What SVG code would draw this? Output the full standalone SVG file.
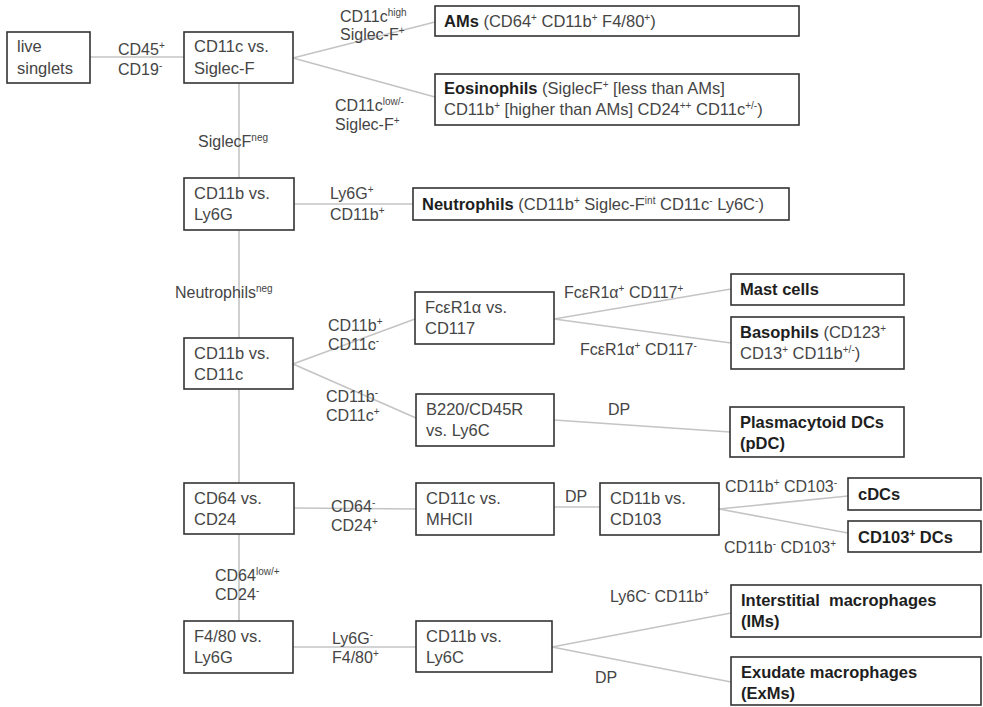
<svg xmlns="http://www.w3.org/2000/svg" width="983" height="707" viewBox="0 0 983 707">
<style>
.box{fill:#fff;stroke:#333;stroke-width:1.6}
.c{stroke:#c4c4c4;stroke-width:1.6;fill:none}
text{font-family:"Liberation Sans",Arial,sans-serif;font-size:16.5px;fill:#454545}
.b{font-weight:bold;fill:#1e1e1e}
.lbl{font-size:16px}
.s{font-size:10px}
</style>
<rect width="983" height="707" fill="#fff"/>
<g id="connectors">
<line class="c" x1="90" y1="57" x2="184" y2="57"/>
<line class="c" x1="293" y1="58" x2="435" y2="22"/>
<line class="c" x1="293" y1="58" x2="435" y2="97"/>
<line class="c" x1="239" y1="83" x2="239" y2="178"/>
<line class="c" x1="294" y1="204" x2="413" y2="204"/>
<line class="c" x1="239" y1="230" x2="239" y2="338"/>
<line class="c" x1="293" y1="364" x2="415" y2="319"/>
<line class="c" x1="293" y1="364" x2="416" y2="418"/>
<line class="c" x1="554" y1="319" x2="731" y2="289"/>
<line class="c" x1="554" y1="319" x2="731" y2="343"/>
<line class="c" x1="554" y1="420" x2="730" y2="432"/>
<line class="c" x1="239" y1="389" x2="239" y2="483"/>
<line class="c" x1="294" y1="508" x2="416" y2="509"/>
<line class="c" x1="554" y1="507" x2="600" y2="507"/>
<line class="c" x1="719" y1="509" x2="848" y2="496"/>
<line class="c" x1="719" y1="509" x2="848" y2="533"/>
<line class="c" x1="239" y1="534" x2="239" y2="621"/>
<line class="c" x1="293" y1="647" x2="416" y2="647"/>
<line class="c" x1="552" y1="647" x2="731" y2="613"/>
<line class="c" x1="552" y1="647" x2="731" y2="682"/>
<g id="edge-labels" class="lbl">
<text class="lbl" x="118" y="55">CD45<tspan class="s" dy="-6">+</tspan></text>
<text class="lbl" x="118" y="75">CD19<tspan class="s" dy="-6">-</tspan></text>
<text class="lbl" x="340" y="22">CD11c<tspan class="s" dy="-6">high</tspan></text>
<text class="lbl" x="340" y="40">Siglec-F<tspan class="s" dy="-6">+</tspan></text>
<text class="lbl" x="335" y="111">CD11c<tspan class="s" dy="-6">low/-</tspan></text>
<text class="lbl" x="335" y="130">Siglec-F<tspan class="s" dy="-6">+</tspan></text>
<text class="lbl" x="198" y="147">SiglecF<tspan class="s" dy="-6">neg</tspan></text>
<text class="lbl" x="330" y="199">Ly6G<tspan class="s" dy="-6">+</tspan></text>
<text class="lbl" x="330" y="220">CD11b<tspan class="s" dy="-6">+</tspan></text>
<text class="lbl" x="175" y="298">Neutrophils<tspan class="s" dy="-6">neg</tspan></text>
<text class="lbl" x="328" y="331">CD11b<tspan class="s" dy="-6">+</tspan></text>
<text class="lbl" x="328" y="350">CD11c<tspan class="s" dy="-6">-</tspan></text>
<text class="lbl" x="326" y="402">CD11b<tspan class="s" dy="-6">-</tspan></text>
<text class="lbl" x="326" y="421">CD11c<tspan class="s" dy="-6">+</tspan></text>
<text class="lbl" x="564" y="298">FcεR1α<tspan class="s" dy="-6">+</tspan><tspan dy="6"> CD117</tspan><tspan class="s" dy="-6">+</tspan></text>
<text class="lbl" x="580" y="355">FcεR1α<tspan class="s" dy="-6">+</tspan><tspan dy="6"> CD117</tspan><tspan class="s" dy="-6">-</tspan></text>
<text class="lbl" x="608" y="415">DP</text>
<text class="lbl" x="331" y="512">CD64<tspan class="s" dy="-6">-</tspan></text>
<text class="lbl" x="331" y="531">CD24<tspan class="s" dy="-6">+</tspan></text>
<text class="lbl" x="565" y="502">DP</text>
<text class="lbl" x="725" y="492">CD11b<tspan class="s" dy="-6">+</tspan><tspan dy="6"> CD103</tspan><tspan class="s" dy="-6">-</tspan></text>
<text class="lbl" x="724" y="553">CD11b<tspan class="s" dy="-6">-</tspan><tspan dy="6"> CD103</tspan><tspan class="s" dy="-6">+</tspan></text>
<text class="lbl" x="215" y="581">CD64<tspan class="s" dy="-6">low/+</tspan></text>
<text class="lbl" x="215" y="600">CD24<tspan class="s" dy="-6">-</tspan></text>
<text class="lbl" x="332" y="644">Ly6G<tspan class="s" dy="-6">-</tspan></text>
<text class="lbl" x="332" y="663">F4/80<tspan class="s" dy="-6">+</tspan></text>
<text class="lbl" x="610" y="602">Ly6C<tspan class="s" dy="-6">-</tspan><tspan dy="6"> CD11b</tspan><tspan class="s" dy="-6">+</tspan></text>
<text class="lbl" x="595" y="683">DP</text>
</g>
</g>
<g id="live-singlets"><rect class="box" x="7" y="32" width="83" height="51"/><text x="17" y="52">live</text><text x="17" y="74">singlets</text></g>
<g id="cd11c-siglecf"><rect class="box" x="184" y="32" width="109" height="51"/><text x="194" y="52">CD11c vs.</text><text x="194" y="74">Siglec-F</text></g>
<g id="ams"><rect class="box" x="435" y="6" width="364" height="30"/><text x="444" y="27"><tspan class="b">AMs</tspan> (CD64<tspan class="s" dy="-6">+</tspan><tspan dy="6"> CD11b</tspan><tspan class="s" dy="-6">+</tspan><tspan dy="6"> F4/80</tspan><tspan class="s" dy="-6">+</tspan><tspan dy="6">)</tspan></text></g>
<g id="eosinophils"><rect class="box" x="435" y="74" width="364" height="51"/><text x="444" y="94"><tspan class="b">Eosinophils</tspan> (SiglecF<tspan class="s" dy="-6">+</tspan><tspan dy="6"> [less than AMs]</tspan></text><text x="444" y="115">CD11b<tspan class="s" dy="-6">+</tspan><tspan dy="6"> [higher than AMs] CD24</tspan><tspan class="s" dy="-6">++</tspan><tspan dy="6"> CD11c</tspan><tspan class="s" dy="-6">+/-</tspan><tspan dy="6">)</tspan></text></g>
<g id="cd11b-ly6g"><rect class="box" x="184" y="178" width="110" height="52"/><text x="194" y="199">CD11b vs.</text><text x="194" y="220">Ly6G</text></g>
<g id="neutrophils"><rect class="box" x="413" y="188" width="376" height="32"/><text x="422" y="210"><tspan class="b">Neutrophils</tspan> (CD11b<tspan class="s" dy="-6">+</tspan><tspan dy="6"> Siglec-F</tspan><tspan class="s" dy="-6">int</tspan><tspan dy="6"> CD11c</tspan><tspan class="s" dy="-6">-</tspan><tspan dy="6"> Ly6C</tspan><tspan class="s" dy="-6">-</tspan><tspan dy="6">)</tspan></text></g>
<g id="cd11b-cd11c"><rect class="box" x="184" y="338" width="109" height="51"/><text x="194" y="359">CD11b vs.</text><text x="194" y="380">CD11c</text></g>
<g id="fcer1a-cd117"><rect class="box" x="415" y="292" width="139" height="52"/><text x="425" y="313">FcεR1α vs.</text><text x="425" y="334">CD117</text></g>
<g id="b220-ly6c"><rect class="box" x="416" y="394" width="138" height="52"/><text x="426" y="415">B220/CD45R</text><text x="426" y="436">vs. Ly6C</text></g>
<g id="mast-cells"><rect class="box" x="731" y="274" width="173" height="31"/><text class="b" x="740" y="295">Mast cells</text></g>
<g id="basophils"><rect class="box" x="731" y="317" width="173" height="52"/><text x="740" y="338"><tspan class="b">Basophils</tspan> (CD123<tspan class="s" dy="-6">+</tspan></text><text x="740" y="359">CD13<tspan class="s" dy="-6">+</tspan><tspan dy="6"> CD11b</tspan><tspan class="s" dy="-6">+/-</tspan><tspan dy="6">)</tspan></text></g>
<g id="pdc"><rect class="box" x="730" y="407" width="174" height="50"/><text class="b" x="740" y="428">Plasmacytoid DCs</text><text class="b" x="740" y="449">(pDC)</text></g>
<g id="cd64-cd24"><rect class="box" x="184" y="483" width="110" height="51"/><text x="194" y="504">CD64 vs.</text><text x="194" y="525">CD24</text></g>
<g id="cd11c-mhcii"><rect class="box" x="416" y="483" width="138" height="52"/><text x="426" y="504">CD11c vs.</text><text x="426" y="525">MHCII</text></g>
<g id="cd11b-cd103"><rect class="box" x="600" y="483" width="119" height="52"/><text x="610" y="504">CD11b vs.</text><text x="610" y="525">CD103</text></g>
<g id="cdcs"><rect class="box" x="848" y="478" width="133" height="32"/><text class="b" x="858" y="500">cDCs</text></g>
<g id="cd103-dcs"><rect class="box" x="848" y="521" width="133" height="31"/><text class="b" x="858" y="543">CD103<tspan class="s" dy="-6">+</tspan><tspan dy="6"> DCs</tspan></text></g>
<g id="f480-ly6g"><rect class="box" x="184" y="621" width="109" height="52"/><text x="194" y="642">F4/80 vs.</text><text x="194" y="663">Ly6G</text></g>
<g id="cd11b-ly6c"><rect class="box" x="416" y="621" width="136" height="51"/><text x="426" y="642">CD11b vs.</text><text x="426" y="663">Ly6C</text></g>
<g id="ims"><rect class="box" x="731" y="585" width="250" height="52"/><text class="b" x="741" y="606" xml:space="preserve">Interstitial  macrophages</text><text class="b" x="741" y="627">(IMs)</text></g>
<g id="exms"><rect class="box" x="731" y="657" width="250" height="48"/><text class="b" x="741" y="678">Exudate macrophages</text><text class="b" x="741" y="699">(ExMs)</text></g>
</svg>
